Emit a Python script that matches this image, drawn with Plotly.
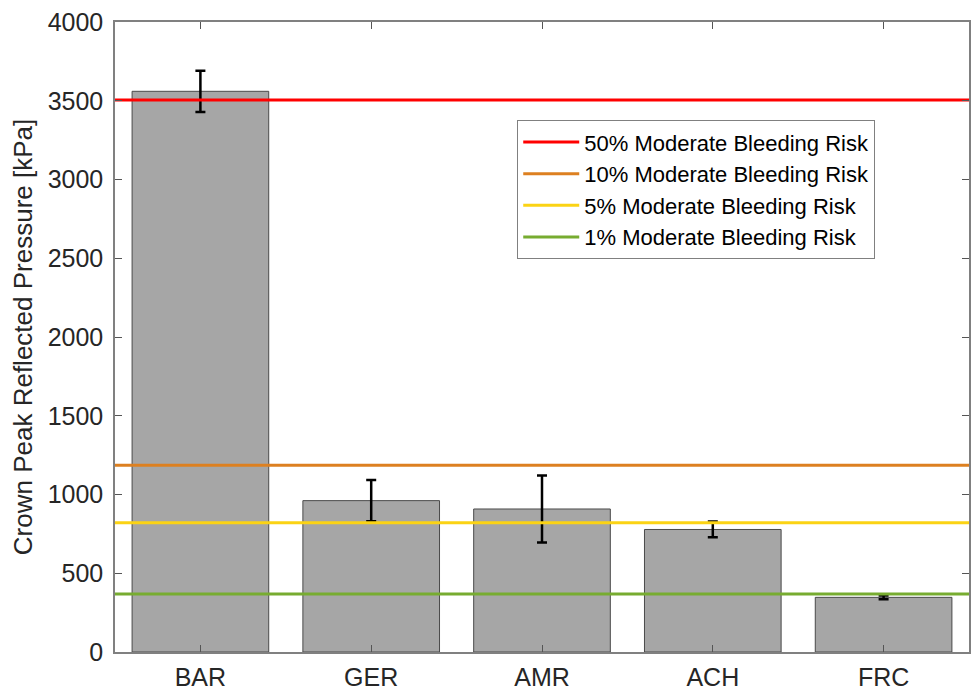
import plotly.graph_objects as go

# Mean crown peak reflected pressure per configuration, with error half-widths
categories = ["BAR", "GER", "AMR", "ACH", "FRC"]
pressure_kpa = [3560, 961, 908, 778, 347]
error_kpa = [131, 131, 212, 50, 12]

# Moderate bleeding risk thresholds
risk_labels = [
    "50% Moderate Bleeding Risk",
    "10% Moderate Bleeding Risk",
    "5% Moderate Bleeding Risk",
    "1% Moderate Bleeding Risk",
]
risk_levels_kpa = [3505, 1185, 820, 368]
risk_colors = ["#ff0000", "#dd8020", "#fbd314", "#77ac30"]

y_ticks = list(range(0, 4001, 500))

xpos = list(range(len(categories)))
x_lo, x_hi = -0.5, len(categories) - 0.5

FONT = "Liberation Sans, Arial"

fig = go.Figure()

fig.add_trace(go.Bar(
    x=xpos,
    y=pressure_kpa,
    width=0.8,
    marker=dict(color="#a6a6a6", line=dict(color="#4a4a4a", width=1)),
    error_y=dict(type="data", array=error_kpa, color="black", thickness=2.5, width=5),
    showlegend=False,
))

for label, level, color in zip(risk_labels, risk_levels_kpa, risk_colors):
    fig.add_trace(go.Scatter(
        x=[x_lo, x_hi],
        y=[level, level],
        mode="lines",
        line=dict(color=color, width=3),
        name=label,
    ))

axis_color = "#808080"
common_axis = dict(
    ticks="inside",
    ticklen=7,
    tickcolor="#555555",
    showline=True,
    linecolor=axis_color,
    linewidth=1.5,
    mirror="ticks",
    showgrid=False,
    zeroline=False,
    automargin=False,
    tickfont=dict(family=FONT, size=25, color="#262626"),
)
fig.update_xaxes(
    range=[x_lo, x_hi],
    tickvals=xpos,
    ticktext=categories,
    ticklabelstandoff=2,
    **common_axis,
)
fig.update_yaxes(
    range=[0, 4000],
    tickvals=y_ticks,
    ticklabelstandoff=5,
    title=dict(text="Crown Peak Reflected Pressure [kPa]",
               font=dict(family=FONT, size=26, color="#262626"),
               standoff=8),
    **common_axis,
)

fig.update_layout(
    width=972,
    height=692,
    margin=dict(l=115, r=3, t=22, b=40),
    plot_bgcolor="white",
    paper_bgcolor="white",
    bargap=0.2,
    legend=dict(
        x=0.471, y=0.844, xanchor="left", yanchor="top",
        bgcolor="white",
        bordercolor="#808080",
        borderwidth=1,
        font=dict(family=FONT, size=22, color="black"),
        tracegroupgap=0,
        itemwidth=56,
    ),
)

fig.write_html("out.html")
